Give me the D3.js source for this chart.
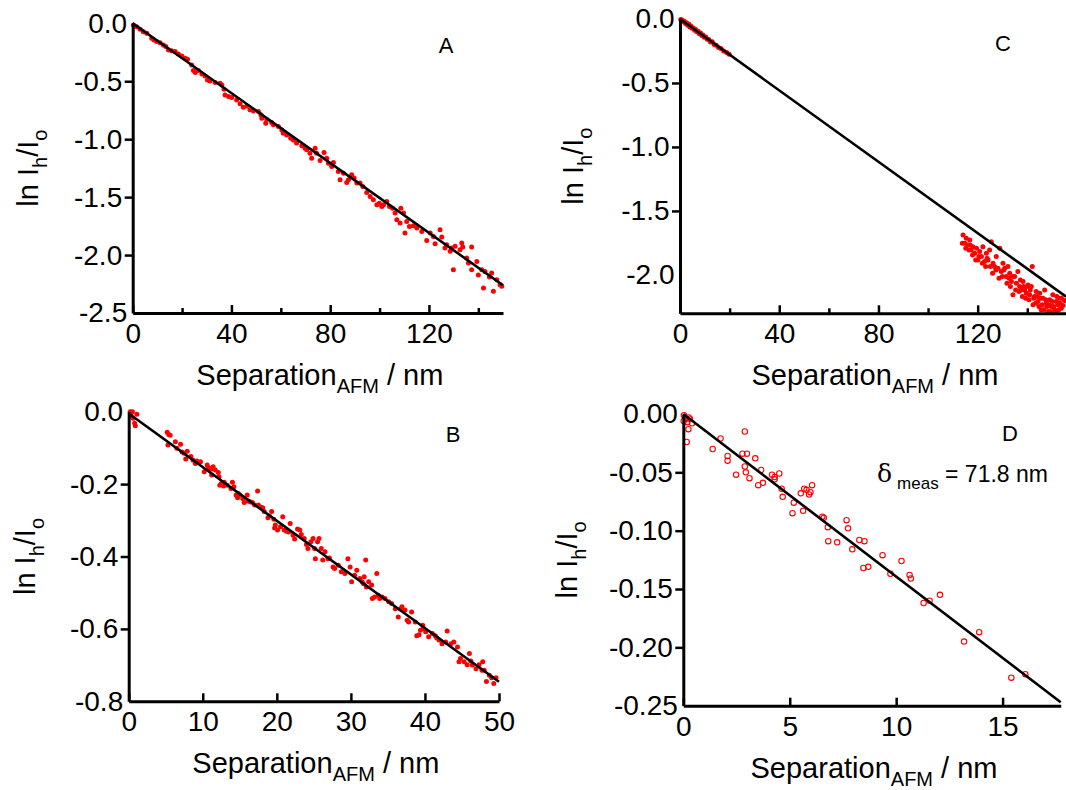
<!DOCTYPE html>
<html>
<head>
<meta charset="utf-8">
<script src="https://cdn.jsdelivr.net/npm/d3@7"></script>
<style>
body { margin: 0; background: #fff; }
svg text { font-family: "Liberation Sans", Arial, sans-serif; fill: #000; }
</style>
</head>
<body>
<div id="chart"></div>
<script>
// ---- data: [separation nm, ln Ih/Io] ----
const pointsA = [[0.3,-0.014],[1.6,-0.029],[3.0,-0.052],[4.3,-0.072],[5.7,-0.086],[7.7,-0.129],[8.6,-0.144],[9.7,-0.158],[11.1,-0.167],[12.4,-0.187],[13.4,-0.201],[14.5,-0.230],[15.8,-0.236],[17.2,-0.244],[18.5,-0.264],[19.9,-0.282],[21.2,-0.302],[22.2,-0.310],[23.9,-0.359],[24.6,-0.408],[25.3,-0.425],[26.6,-0.408],[28.0,-0.437],[29.3,-0.454],[30.3,-0.489],[31.3,-0.497],[33.4,-0.511],[35.4,-0.517],[36.1,-0.532],[37.0,-0.569],[37.4,-0.618],[38.8,-0.632],[40.1,-0.641],[42.1,-0.661],[43.5,-0.695],[44.8,-0.724],[46.2,-0.713],[47.5,-0.747],[48.9,-0.756],[50.9,-0.761],[51.9,-0.790],[52.3,-0.819],[53.9,-0.862],[54.3,-0.833],[56.3,-0.856],[57.0,-0.876],[59.0,-0.891],[60.4,-0.920],[61.0,-0.948],[62.4,-0.963],[64.0,-0.991],[65.1,-1.006],[66.4,-1.034],[68.5,-1.057],[69.8,-1.078],[70.5,-1.092],[71.8,-1.121],[72.5,-1.164],[73.9,-1.078],[74.5,-1.121],[75.9,-1.184],[77.5,-1.115],[78.6,-1.164],[79.3,-1.207],[80.6,-1.236],[81.3,-1.201],[83.3,-1.279],[84.0,-1.351],[85.4,-1.293],[86.7,-1.374],[87.4,-1.351],[88.7,-1.307],[89.7,-1.336],[90.8,-1.379],[92.1,-1.379],[93.2,-1.408],[94.8,-1.460],[96.2,-1.494],[97.5,-1.523],[98.9,-1.566],[99.9,-1.552],[100.9,-1.580],[101.6,-1.566],[102.9,-1.537],[104.0,-1.580],[105.3,-1.595],[106.3,-1.638],[107.0,-1.695],[108.3,-1.724],[108.6,-1.595],[109.7,-1.638],[110.3,-1.810],[111.0,-1.710],[112.1,-1.753],[113.7,-1.747],[115.1,-1.767],[117.1,-1.796],[119.1,-1.874],[120.5,-1.810],[121.8,-1.839],[122.5,-1.902],[124.5,-1.782],[125.2,-1.845],[126.5,-1.940],[127.2,-1.911],[128.6,-1.968],[129.2,-1.940],[129.9,-2.126],[130.6,-1.925],[132.6,-1.954],[133.3,-1.897],[133.7,-1.931],[135.3,-2.026],[136.0,-2.069],[137.3,-1.931],[137.3,-2.126],[139.4,-2.055],[140.0,-2.172],[141.4,-2.126],[142.1,-2.284],[142.7,-2.141],[144.5,-2.190],[145.4,-2.155],[146.1,-2.313],[147.5,-2.213],[148.8,-2.256],[149.5,-2.270]];

const pointsB = [[0.2,0],[0.3,-0.011],[0.5,0.0],[0.6,-0.018],[0.8,-0.032],[0.9,-0.039],[1.1,-0.007],[5.2,-0.057],[5.4,-0.063],[5.6,-0.065],[5.3,-0.092],[6.3,-0.083],[6.5,-0.101],[7.0,-0.090],[7.2,-0.111],[7.5,-0.115],[7.7,-0.131],[7.9,-0.109],[8.4,-0.124],[8.7,-0.134],[9.0,-0.143],[9.2,-0.136],[9.7,-0.138],[10.2,-0.166],[10.6,-0.147],[10.8,-0.155],[11.1,-0.159],[11.2,-0.175],[11.4,-0.152],[11.7,-0.161],[12.1,-0.168],[12.2,-0.180],[12.3,-0.203],[12.5,-0.198],[12.8,-0.205],[12.9,-0.195],[13.3,-0.203],[13.8,-0.212],[14.0,-0.195],[14.2,-0.207],[14.5,-0.230],[14.7,-0.238],[14.8,-0.226],[15.0,-0.230],[15.4,-0.240],[15.6,-0.251],[16.0,-0.230],[16.1,-0.247],[16.4,-0.249],[16.7,-0.251],[17.0,-0.258],[17.4,-0.219],[17.5,-0.258],[17.8,-0.263],[18.1,-0.265],[18.3,-0.276],[18.8,-0.293],[19.0,-0.288],[19.3,-0.276],[19.6,-0.297],[19.7,-0.321],[19.8,-0.313],[20.1,-0.327],[20.5,-0.318],[20.8,-0.290],[21.0,-0.327],[21.3,-0.330],[21.6,-0.332],[21.8,-0.309],[22.2,-0.341],[22.4,-0.352],[22.8,-0.324],[23.1,-0.327],[23.3,-0.339],[23.7,-0.350],[24.0,-0.367],[24.2,-0.378],[24.6,-0.359],[24.9,-0.350],[25.1,-0.378],[25.2,-0.406],[25.5,-0.359],[25.7,-0.350],[26.0,-0.378],[26.2,-0.410],[26.5,-0.387],[26.9,-0.406],[27.1,-0.404],[27.6,-0.429],[27.8,-0.433],[28.3,-0.424],[28.7,-0.442],[29.2,-0.447],[29.6,-0.406],[29.9,-0.429],[30.1,-0.470],[30.5,-0.452],[30.8,-0.438],[31.2,-0.461],[31.5,-0.470],[31.7,-0.475],[31.8,-0.456],[32.0,-0.410],[32.1,-0.484],[32.4,-0.470],[32.8,-0.479],[32.9,-0.516],[33.2,-0.512],[33.5,-0.447],[33.7,-0.507],[33.9,-0.516],[34.2,-0.512],[34.6,-0.516],[35.1,-0.525],[35.5,-0.530],[36.0,-0.544],[36.4,-0.567],[36.7,-0.544],[36.9,-0.539],[37.3,-0.548],[37.6,-0.576],[37.8,-0.581],[38.2,-0.553],[38.7,-0.581],[38.9,-0.619],[39.2,-0.616],[39.4,-0.604],[39.7,-0.590],[39.8,-0.599],[40.1,-0.608],[40.5,-0.622],[41.0,-0.613],[41.4,-0.619],[41.6,-0.625],[41.9,-0.631],[42.3,-0.641],[42.8,-0.636],[43.0,-0.606],[43.5,-0.641],[43.9,-0.636],[44.4,-0.650],[44.6,-0.691],[44.8,-0.682],[45.3,-0.691],[45.7,-0.699],[46.0,-0.668],[46.2,-0.689],[46.4,-0.700],[46.9,-0.710],[47.3,-0.699],[47.7,-0.714],[47.8,-0.691],[48.0,-0.714],[48.3,-0.745],[48.7,-0.728],[49.0,-0.735],[49.3,-0.751],[49.6,-0.735]];

const pointsC = [[0.3,-0.003],[0.8,-0.008],[1.2,-0.020],[1.7,-0.018],[2.2,-0.035],[2.6,-0.030],[3.1,-0.048],[3.5,-0.040],[4.0,-0.062],[4.4,-0.055],[4.9,-0.072],[5.4,-0.070],[5.9,-0.088],[6.3,-0.082],[6.8,-0.100],[7.3,-0.095],[7.8,-0.115],[8.3,-0.110],[8.8,-0.128],[9.3,-0.125],[9.8,-0.142],[10.4,-0.140],[11.0,-0.158],[11.6,-0.160],[12.3,-0.180],[13.0,-0.178],[13.8,-0.200],[14.6,-0.205],[15.5,-0.222],[16.5,-0.230],[17.6,-0.250],[18.8,-0.262],[19.8,-0.275],
  [114.1,-1.688],[114.8,-1.753],[115.4,-1.714],[116.1,-1.766],[116.8,-1.727],[117.4,-1.805],[118.1,-1.779],[118.8,-1.831],[119.5,-1.792],[120.1,-1.883],[120.8,-1.818],[121.5,-1.857],[122.1,-1.779],[122.8,-1.896],[123.5,-1.831],[124.2,-1.883],[124.8,-1.805],[125.5,-1.740],[126.2,-1.909],[126.8,-1.935],[127.5,-1.857],[128.2,-1.948],[128.9,-1.792],[129.5,-1.974],[130.2,-1.909],[130.9,-1.948],[131.5,-2.013],[132.2,-1.935],[132.9,-1.987],[133.6,-2.052],[134.2,-2.156],[134.9,-2.013],[135.6,-2.065],[136.2,-1.974],[136.9,-2.091],[137.6,-2.117],[138.3,-2.052],[138.9,-2.117],[139.6,-2.143],[140.3,-2.078],[140.9,-2.156],[141.6,-2.091],[142.0,-1.935],[142.3,-2.234],[142.9,-2.169],[143.6,-2.130],[144.3,-2.208],[145.0,-2.143],[145.6,-2.273],[146.3,-2.182],[147.0,-2.117],[147.7,-2.221],[148.3,-2.286],[149.0,-2.195],[149.7,-2.247],[150.3,-2.156],[151.0,-2.273],[151.7,-2.208],[152.3,-2.234],[153.0,-2.182],[153.7,-2.260],
  [113.8,-1.753],[115.2,-1.792],[116.5,-1.805],[117.0,-1.766],[117.9,-1.844],[119.2,-1.883],[120.5,-1.857],[121.9,-1.909],[123.2,-1.935],[123.8,-1.870],[125.1,-1.935],[126.0,-1.987],[127.3,-1.961],[128.6,-2.026],[129.9,-2.013],[130.5,-1.961],[131.8,-2.065],[132.6,-2.026],[133.2,-2.091],[134.0,-2.013],[135.3,-2.117],[136.6,-2.130],[137.2,-2.039],[138.0,-2.169],[138.5,-2.091],[139.3,-2.182],[139.9,-2.091],[140.7,-2.195],[141.2,-2.117],[142.6,-2.182],[143.4,-2.221],[143.9,-2.169],[144.7,-2.247],[145.3,-2.182],[146.0,-2.234],[146.6,-2.273],[147.4,-2.195],[147.9,-2.247],[148.7,-2.234],[149.3,-2.286],[150.1,-2.208],[150.6,-2.247],[151.4,-2.286],[151.9,-2.169],[152.7,-2.273],[153.2,-2.221],[153.8,-2.182],[154.4,-2.240],[155.0,-2.200]];

const pointsD = [[0.02,-0.006],[0.03,-0.001],[0.13,-0.004],[0.19,-0.007],[0.25,-0.003],[0.31,-0.004],[0.24,-0.013],[0.16,-0.024],[0.41,-0.008],[1.38,-0.030],[1.75,-0.021],[2.08,-0.036],[2.08,-0.040],[2.48,-0.052],[2.78,-0.034],[2.89,-0.015],[2.89,-0.045],[2.99,-0.034],[2.94,-0.050],[3.11,-0.055],[3.38,-0.038],[3.52,-0.061],[3.66,-0.048],[3.74,-0.059],[4.17,-0.052],[4.29,-0.056],[4.29,-0.054],[4.51,-0.051],[4.62,-0.064],[4.67,-0.071],[5.13,-0.085],[5.19,-0.076],[5.52,-0.068],[5.63,-0.083],[5.68,-0.064],[5.79,-0.065],[5.91,-0.069],[5.97,-0.067],[6.05,-0.061],[6.53,-0.088],[6.60,-0.089],[6.79,-0.097],[6.81,-0.109],[7.23,-0.110],[7.67,-0.091],[7.74,-0.098],[7.94,-0.116],[8.27,-0.108],[8.46,-0.132],[8.51,-0.109],[8.69,-0.131],[9.36,-0.121],[9.73,-0.137],[10.25,-0.126],[10.63,-0.138],[10.69,-0.141],[11.29,-0.162],[11.57,-0.160],[12.06,-0.155],[13.19,-0.195],[13.90,-0.187],[15.41,-0.226],[16.07,-0.223]];

// fitted straight lines (end points)
const fitA = [[0, 0], [150, -2.26]];
const fitB = [[0, -0.005], [50, -0.746]];
const fitC = [[0, 0], [155.6, -2.17]];
const fitD = [[0, 0], [17.73, -0.247]];

// tick values
const xTicksA = [0, 40, 80, 120], xMinorA = [20, 60, 100, 140];
const yTicksA = [0, -0.5, -1.0, -1.5, -2.0, -2.5];
const xTicksB = [0, 10, 20, 30, 40, 50];
const yTicksB = [0, -0.2, -0.4, -0.6, -0.8];
const xTicksC = [0, 40, 80, 120], xMinorC = [20, 60, 100, 140];
const yTicksC = [0, -0.5, -1.0, -1.5, -2.0];
const xTicksD = [0, 5, 10, 15];
const yTicksD = [0, -0.05, -0.10, -0.15, -0.20, -0.25];

const width = 1066, height = 790;
const svg = d3.select('#chart').append('svg')
    .attr('width', width)
    .attr('height', height);

const panels = [
    {key: 'A', pts: pointsA, fit: fitA, xd: [0, 150], yd: [0, -2.5], left: 132.7, right: 503, top: 23.3, bottom: 313,
     xt: xTicksA, xm: xMinorA, yt: yTicksA, dec: 1, titleX: 38, letter: [446, 53]},
    {key: 'B', pts: pointsB, fit: fitB, xd: [0, 50], yd: [0, -0.8], left: 128.7, right: 499, top: 411.7, bottom: 701.3,
     xt: xTicksB, xm: [], yt: yTicksB, dec: 1, titleX: 35, letter: [453, 442]},
    {key: 'C', pts: pointsC, fit: fitC, xd: [0, 155.6], yd: [0, -2.3], left: 680, right: 1066, top: 19, bottom: 313.3,
     xt: xTicksC, xm: xMinorC, yt: yTicksC, dec: 1, titleX: 583, letter: [1003, 51]},
    {key: 'D', pts: pointsD, fit: fitD, xd: [0, 17.73], yd: [0, -0.25], left: 683.3, right: 1060.7, top: 414, bottom: 705.7,
     xt: xTicksD, xm: [], yt: yTicksD, dec: 2, titleX: 577, letter: [1010, 441], open: true}
];

panels.forEach((p) => drawPanel(p));

function drawPanel(p) {
    const g = svg.append('g').attr('class', 'panel-' + p.key);
    const x = d3.scaleLinear().domain(p.xd).range([p.left, p.right]);
    const y = d3.scaleLinear().domain(p.yd).range([p.top, p.bottom]);

    // clip to the plot area
    g.append('clipPath').attr('id', 'clip' + p.key)
        .append('rect')
        .attr('x', p.left - 4).attr('y', p.top - 6)
        .attr('width', p.right - p.left + 8).attr('height', p.bottom - p.top + 6);
    const plot = g.append('g').attr('clip-path', `url(#clip${p.key})`);

    // scatter
    plot.selectAll('circle')
        .data(p.pts)
        .join('circle')
        .attr('cx', d => x(d[0]))
        .attr('cy', d => y(d[1]))
        .attr('r', p.open ? 2.7 : 2.5)
        .attr('fill', p.open ? 'none' : '#ff0000')
        .attr('stroke', p.open ? '#ff0000' : 'none')
        .attr('stroke-width', 1.1);

    // fitted line
    plot.append('path')
        .datum(p.fit)
        .attr('fill', 'none')
        .attr('stroke', '#000')
        .attr('stroke-width', 2.6)
        .attr('d', d3.line().x(d => x(d[0])).y(d => y(d[1])));

    // y axis, ticks outward; no tick at the two axis ends
    const yAxis = d3.axisLeft(y).tickValues(p.yt).tickSize(8).tickSizeOuter(0).tickPadding(2.5)
        .tickFormat(d => d.toFixed(p.dec));
    const yg = g.append('g').attr('transform', `translate(${p.left},0)`).call(yAxis);
    const yEnds = yg.selectAll('.tick').filter((d, i, n) => i === 0 || i === n.length - 1);
    yEnds.select('line').remove();
    yEnds.select('text').attr('x', -5.5);

    // x axis, ticks inward
    const xAxis = d3.axisBottom(x).tickValues(p.xt).tickSize(-8).tickSizeOuter(0).tickPadding(10)
        .tickFormat(d3.format('d'));
    const xg = g.append('g').attr('transform', `translate(0,${p.bottom})`).call(xAxis);
    const xmg = g.append('g').attr('transform', `translate(0,${p.bottom})`)
        .call(d3.axisBottom(x).tickValues(p.xm).tickSize(-5).tickSizeOuter(0).tickFormat(''));
    xmg.select('.domain').remove();

    [yg, xg, xmg].forEach((a) => {
        a.selectAll('.domain').attr('stroke', '#000').attr('stroke-width', 3);
        a.selectAll('.tick line').attr('stroke', '#000').attr('stroke-width', 2.5);
        a.selectAll('.tick text')
            .attr('font-family', '"Liberation Sans", Arial, sans-serif')
            .attr('font-size', 28)
            .attr('fill', '#000');
    });

    // x title
    const xt = g.append('text')
        .attr('x', (p.left + p.right) / 2 + 2)
        .attr('y', p.bottom + 72)
        .attr('text-anchor', 'middle')
        .attr('font-size', 29);
    xt.append('tspan').text('Separation');
    xt.append('tspan').attr('font-size', 20).attr('dy', 8).text('AFM');
    xt.append('tspan').attr('dy', -8).text(' / nm');

    // y title
    const yt = g.append('text')
        .attr('transform', `translate(${p.titleX},${(p.top + p.bottom) / 2}) rotate(-90)`)
        .attr('text-anchor', 'middle')
        .attr('font-size', 29);
    yt.append('tspan').text('ln I');
    yt.append('tspan').attr('font-size', 20).attr('dy', 9).text('h');
    yt.append('tspan').attr('dy', -9).text('/I');
    yt.append('tspan').attr('font-size', 20).attr('dy', 9).text('o');

    // panel letter
    g.append('text')
        .attr('x', p.letter[0]).attr('y', p.letter[1])
        .attr('text-anchor', 'middle')
        .attr('font-size', 22)
        .text(p.key);

    if (p.key === 'D') {
        const an = g.append('text').attr('x', 877).attr('y', 482).attr('font-size', 23);
        an.append('tspan').attr('font-family', '"DejaVu Serif", serif').attr('font-size', 25).text('δ');
        an.append('tspan').attr('font-size', 17).attr('dx', 5).attr('dy', 7).text('meas');
        an.append('tspan').attr('dy', -7).text(' = 71.8 nm');
    }
}
</script>
</body>
</html>
